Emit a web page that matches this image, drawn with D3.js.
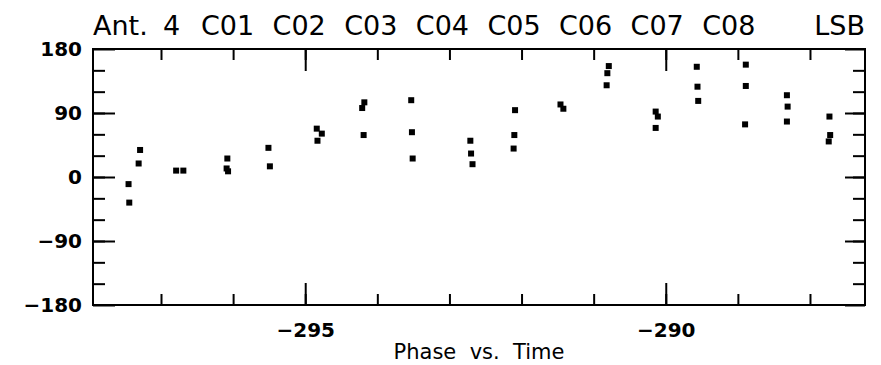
<!DOCTYPE html>
<html>
<head>
<meta charset="utf-8">
<script src="https://cdn.jsdelivr.net/npm/d3@7"></script>
<style>
  body { margin: 0; background: #fff; }
  svg { display: block; }
  .tickLabel { font-family: "DejaVu Sans", sans-serif; font-weight: bold; font-size: 20px; fill: #000; }
  .title { font-family: "DejaVu Sans", sans-serif; font-size: 27px; fill: #000; }
</style>
</head>
<body>
<div id="chart"></div>
<script>
// time (x) and phase in degrees (y) of every plotted point
var scanTime = [-297.45, -297.44, -297.29, -297.31,
  -296.79, -296.69,
  -296.08, -296.09, -296.07,
  -295.51, -295.49,
  -294.84, -294.77, -294.83,
  -294.18, -294.21, -294.19,
  -293.53, -293.52, -293.51,
  -292.71, -292.70, -292.68,
  -292.09, -292.10, -292.11,
  -291.46, -291.42,
  -290.79, -290.81, -290.82,
  -290.14, -290.11, -290.14,
  -289.57, -289.56, -289.55,
  -288.89, -288.89, -288.90,
  -288.32, -288.31, -288.32,
  -287.73, -287.72, -287.74];
var phase = [-10, -36, 38, 19,
  9, 9,
  26, 12, 8,
  41, 15,
  68, 61, 51,
  105, 97, 59,
  108, 63, 26,
  51, 33, 18,
  94, 59, 40,
  102, 96,
  156, 146, 129,
  92, 85, 69,
  155, 127, 107,
  158, 128, 74,
  115, 99, 78,
  85, 59, 50];

var xMajor = [-295, -290];
var xMinor = d3.range(-297, -287);
var yMajor = [-180, -90, 0, 90, 180];
var yMinor = d3.range(-150, 180, 30);
var titleParts = ["C01", "C02", "C03", "C04", "C05", "C06", "C07", "C08"];

var W = 881, H = 365;
var pL = 93, pR = 865, pT = 49, pB = 305; // plot frame

var svg = d3.select("#chart").append("svg")
    .attr("width", W)
    .attr("height", H);

var x = d3.scaleLinear().domain([-297.943, -287.237]).range([pL, pR]);
var y = d3.scaleLinear().domain([-180, 180]).range([pB, pT]);

function styleAxis(g) {
  g.select(".domain").remove();
  g.selectAll("line").attr("stroke", "#000").attr("stroke-width", 2);
}

// bottom axis: minor + major (inward ticks)
svg.append("g").attr("transform", "translate(0," + pB + ")")
    .call(d3.axisBottom(x).tickValues(xMinor).tickSize(-11).tickFormat(""))
    .call(styleAxis);
var xb = svg.append("g").attr("transform", "translate(0," + pB + ")")
    .call(d3.axisBottom(x).tickValues(xMajor).tickSize(-22).tickPadding(18)
      .tickFormat(function(d) { return "\u2212" + Math.abs(d); }))
    .call(styleAxis);
xb.attr("font-size", null).attr("font-family", null);
xb.selectAll("text").attr("class", "tickLabel");

// top axis
svg.append("g").attr("transform", "translate(0," + pT + ")")
    .call(d3.axisTop(x).tickValues(xMinor).tickSize(-11).tickFormat(""))
    .call(styleAxis);
svg.append("g").attr("transform", "translate(0," + pT + ")")
    .call(d3.axisTop(x).tickValues(xMajor).tickSize(-22).tickFormat(""))
    .call(styleAxis);

// left axis
svg.append("g").attr("transform", "translate(" + pL + ",0)")
    .call(d3.axisLeft(y).tickValues(yMinor).tickSize(-12).tickFormat(""))
    .call(styleAxis);
var yl = svg.append("g").attr("transform", "translate(" + pL + ",0)")
    .call(d3.axisLeft(y).tickValues(yMajor).tickSize(-22).tickPadding(11)
      .tickFormat(function(d) { return d < 0 ? "\u2212" + Math.abs(d) : d; }))
    .call(styleAxis);
yl.attr("font-size", null).attr("font-family", null);
yl.selectAll("text").attr("class", "tickLabel");

// right axis
svg.append("g").attr("transform", "translate(" + pR + ",0)")
    .call(d3.axisRight(y).tickValues(yMinor).tickSize(-12).tickFormat(""))
    .call(styleAxis);
svg.append("g").attr("transform", "translate(" + pR + ",0)")
    .call(d3.axisRight(y).tickValues(yMajor).tickSize(-20).tickFormat(""))
    .call(styleAxis);

// frame
svg.append("rect")
    .attr("x", pL)
    .attr("y", pT)
    .attr("width", pR - pL)
    .attr("height", pB - pT)
    .attr("fill", "none")
    .attr("stroke", "#000")
    .attr("stroke-width", 2);

// points
var pts = scanTime.map(function(t, i) { return {t: t, p: phase[i]}; });
svg.selectAll("rect.pt")
    .data(pts)
  .enter().append("rect")
    .attr("class", "pt")
    .attr("x", function(d) { return x(d.t) - 3; })
    .attr("y", function(d) { return y(d.p) - 3; })
    .attr("width", 6)
    .attr("height", 6)
    .attr("fill", "#000");

// title line
svg.append("text").attr("class", "title").attr("x", pL).attr("y", 35).text("Ant.");
svg.append("text").attr("class", "title").attr("x", 163).attr("y", 35).text("4");
titleParts.forEach(function(s, i) {
  svg.append("text").attr("class", "title")
      .attr("x", 201 + i * 71.6)
      .attr("y", 35)
      .text(s);
});
svg.append("text").attr("class", "title")
    .attr("x", pR)
    .attr("y", 35)
    .attr("text-anchor", "end")
    .text("LSB");

// x title
svg.append("text")
    .attr("x", (pL + pR) / 2)
    .attr("y", 359)
    .attr("text-anchor", "middle")
    .attr("xml:space", "preserve")
    .style("font-family", "DejaVu Sans, sans-serif")
    .style("font-size", "21px")
    .text("Phase  vs.  Time");
</script>
</body>
</html>
